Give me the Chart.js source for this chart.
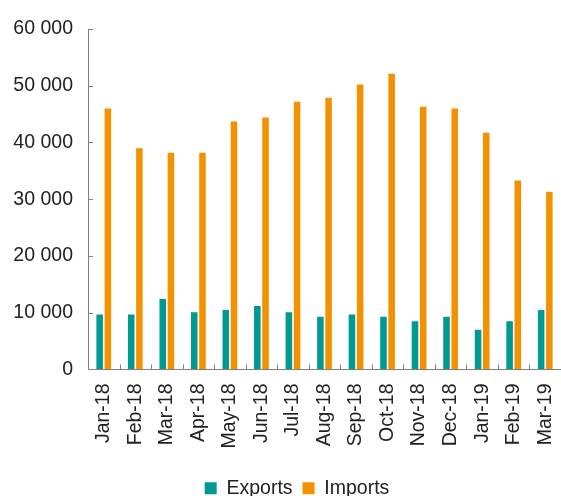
<!DOCTYPE html>
<html>
<head>
<meta charset="utf-8">
<script src="https://cdn.jsdelivr.net/npm/chart.js@4"></script>
<style>
  html, body { margin: 0; padding: 0; background: #fff; }
  #wrap { width: 561px; height: 496px; }
</style>
</head>
<body>
<div id="wrap"><canvas id="chart" width="561" height="496"></canvas></div>
<script>
// Monthly trade values
const months = ['Jan-18', 'Feb-18', 'Mar-18', 'Apr-18', 'May-18', 'Jun-18', 'Jul-18', 'Aug-18',
                'Sep-18', 'Oct-18', 'Nov-18', 'Dec-18', 'Jan-19', 'Feb-19', 'Mar-19'];
const exportsData = [9700, 9700, 12400, 10100, 10500, 11200, 10100, 9300, 9700, 9300, 8500, 9300, 7000, 8500, 10500];
const importsData = [46000, 39000, 38200, 38200, 43700, 44400, 47200, 47900, 50200, 52100, 46300, 46000, 41700, 33300, 31300];
const yTicks = [0, 10000, 20000, 30000, 40000, 50000, 60000];

const textColor = '#222222';
const axisColor = '#808080';
const fontFamily = '"Liberation Sans", Arial, sans-serif';
const fontSize = 19.5;

function spaceThousands(v) {
    return String(v).replace(/\B(?=(\d{3})+(?!\d))/g, ' ');
}

// nudge the legend to the right, like the original
const legendShift = {
    id: 'legendShift',
    afterLayout(chart) {
        chart.legend.left += 8;
        chart.legend.right += 8;
    }
};

// small tick marks pointing into the plot area
const insideTicks = {
    id: 'insideTicks',
    afterDatasetsDraw(chart) {
        const { ctx, chartArea } = chart;
        const x = chart.scales.x, y = chart.scales.y;
        const half = (x.getPixelForValue(1) - x.getPixelForValue(0)) / 2;
        ctx.save();
        ctx.strokeStyle = axisColor;
        ctx.lineWidth = 1;
        ctx.beginPath();
        for (let i = 1; i < months.length; i++) {
            const px = Math.round(x.getPixelForValue(i) - half) + 0.5;
            ctx.moveTo(px, chartArea.bottom);
            ctx.lineTo(px, chartArea.bottom - 5);
        }
        yTicks.forEach(v => {
            const py = Math.round(y.getPixelForValue(v)) + 0.5;
            ctx.moveTo(chartArea.left, py);
            ctx.lineTo(chartArea.left + 5, py);
        });
        ctx.stroke();
        ctx.restore();
    }
};

new Chart(document.getElementById('chart').getContext('2d'), {
    type: 'bar',
    data: {
        labels: months,
        datasets: [
            { label: 'Exports', data: exportsData, backgroundColor: '#009a93', borderWidth: 0,
              categoryPercentage: 0.52, barPercentage: 0.8 },
            { label: 'Imports', data: importsData, backgroundColor: '#f39200', borderWidth: 0,
              categoryPercentage: 0.52, barPercentage: 0.8 }
        ]
    },
    options: {
        responsive: false,
        animation: false,
        layout: { padding: { left: 13, top: 29, right: -4, bottom: -12 } },
        plugins: {
            legend: {
                position: 'bottom',
                labels: {
                    boxWidth: 12,
                    boxHeight: 12,
                    color: textColor,
                    font: { family: fontFamily, size: fontSize }
                }
            },
            tooltip: { enabled: false }
        },
        scales: {
            x: {
                grid: { drawOnChartArea: false, drawTicks: false },
                border: { color: axisColor, width: 1 },
                ticks: {
                    minRotation: 90,
                    maxRotation: 90,
                    padding: 14,
                    color: textColor,
                    font: { family: fontFamily, size: fontSize }
                },
                afterFit(scale) {
                    scale.paddingLeft = 0;
                    scale.paddingRight = 0;
                    scale.height += 6;
                }
            },
            y: {
                min: 0,
                max: 60000,
                afterBuildTicks(scale) {
                    scale.ticks = yTicks.map(v => ({ value: v }));
                },
                grid: { drawOnChartArea: false, drawTicks: false },
                border: { color: axisColor, width: 1 },
                ticks: {
                    padding: 15,
                    color: textColor,
                    font: { family: fontFamily, size: fontSize },
                    callback: v => spaceThousands(v)
                },
                afterFit(scale) {
                    scale.paddingTop = 0;
                    scale.paddingBottom = 0;
                    scale.width = 75;
                }
            }
        }
    },
    plugins: [legendShift, insideTicks]
});
</script>
</body>
</html>
